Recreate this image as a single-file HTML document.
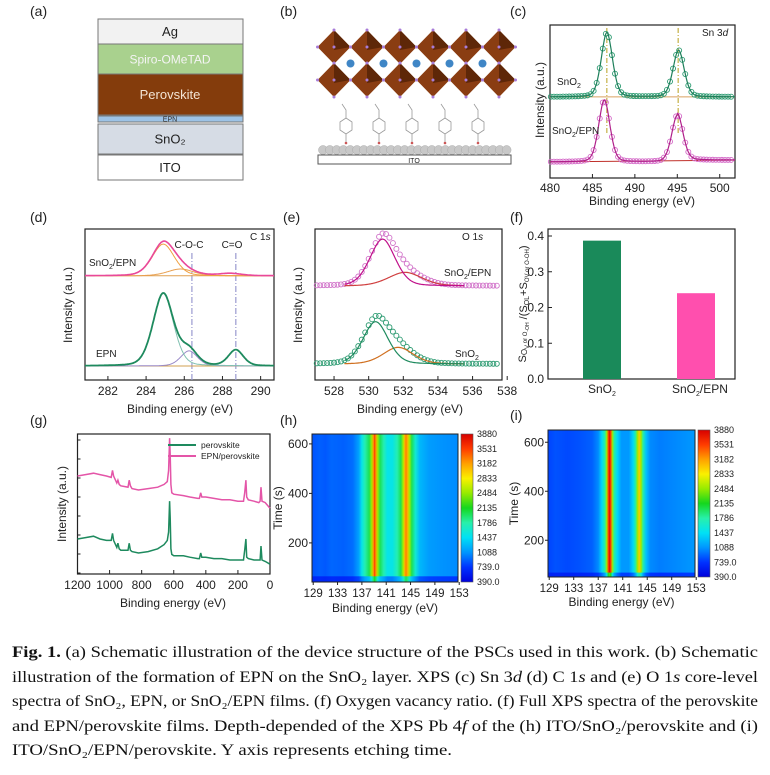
<!DOCTYPE html>
<html><head><meta charset="utf-8"><style>
body{margin:0;background:#fff;overflow:hidden}
svg{display:block;font-family:"Liberation Sans",sans-serif}
</style></head><body>
<svg id="fig" width="770" height="775" viewBox="0 0 770 775">
<defs id="defs"></defs>
<g id="panels"></g>
<g font-family="Liberation Serif, serif" font-size="16" fill="#111">
<text x="12" y="657" textLength="746" lengthAdjust="spacingAndGlyphs"><tspan font-weight="bold">Fig. 1.</tspan> (a) Schematic illustration of the device structure of the PSCs used in this work. (b) Schematic</text>
<text x="12" y="682" textLength="746" lengthAdjust="spacingAndGlyphs">illustration of the formation of EPN on the SnO₂ layer. XPS (c) Sn 3<tspan font-style="italic">d</tspan> (d) C 1<tspan font-style="italic">s</tspan> and (e) O 1<tspan font-style="italic">s</tspan> core-level</text>
<text x="12" y="706" textLength="746" lengthAdjust="spacingAndGlyphs">spectra of SnO₂, EPN, or SnO₂/EPN films. (f) Oxygen vacancy ratio. (f) Full XPS spectra of the perovskite</text>
<text x="12" y="731" textLength="746" lengthAdjust="spacingAndGlyphs">and EPN/perovskite films. Depth-depended of the XPS Pb 4<tspan font-style="italic">f</tspan> of the (h) ITO/SnO₂/perovskite and (i)</text>
<text x="12" y="755" textLength="440" lengthAdjust="spacingAndGlyphs">ITO/SnO₂/EPN/perovskite. Y axis represents etching time.</text>
</g>
</svg>
<script>
// ---------- data ----------
const cTicks=[480,485,490,495,500];
const cSnO2Peaks=[[486.7,42,0.68],[495.15,30.5,0.68]];
const cSnO2Base=53;
const cEpnPeaks=[[486.4,40.5,0.68],[495.0,30.5,0.68]];
const cEpnBase=10.5;
const cDashes=[486.7,495.1];
const dTicks=[282,284,286,288,290];
const dTopPeaks=[[284.9,21,0.6],[285.8,4.5,0.7],[288.4,1.5,0.6]];
const dTopBase=69;
const dEpnPeaks=[[284.9,48,0.55],[286.25,10,0.45],[288.7,10.5,0.4]];
const dEpnBase=9.3;
const dDashes=[286.4,288.7];
const eTicks=[528,530,532,534,536,538];
const eTopPeaks=[[530.8,31,0.75],[532.1,9,1.0]];
const eTopBase=62.3;
const eBotPeaks=[[530.4,28,0.75],[531.7,11,0.9]];
const eBotBase=10.6;
const fCats=["SnO2","SnO2/EPN"];
const fVals=[0.387,0.240];
const fTicks=[0.0,0.1,0.2,0.3,0.4];
const gTicks=[1200,1000,800,600,400,200,0];
const gPinkE=[1200,1150,1100,1060,1020,990,982,975,955,948,940,930,885,878,870,860,820,760,700,660,640,632,626,622,618,612,600,540,500,450,440,432,425,400,350,300,250,200,165,158,150,145,135,100,70,62,56,50,30,0];
const gPinkI=[70,71,72,71,70,69,74,70,65,67,64,63,62,67,63,61,60,61,62,64,66,74,97,85,64,58,57,56,55,54,54,58,55,55,54,53,53,52,52,58,67,55,53,52,51,52,62,52,51,47];
const gGreenE=[1200,1150,1100,1060,1020,990,982,975,955,948,940,930,885,878,870,860,820,760,700,660,640,632,626,622,618,612,600,540,500,450,440,432,425,400,350,300,250,200,165,158,150,145,135,100,70,62,56,50,30,0];
const gGreenI=[25,26,27,25,24,24,29,24,19,22,18,17,17,22,17,16,15,16,18,21,24,30,52,40,18,14,13,13,12,11,11,15,12,12,11,11,10,10,10,17,25,12,11,10,10,10,20,10,9,7];
const hmTicks=[129,133,137,141,145,149,153];
const hmYTicks=[200,400,600];
const cbLabels=["3880","3531","3182","2833","2484","2135","1786","1437","1088","739.0","390.0"];
const hE=[128.8,130,131,132,134,135.5,136.5,137,137.5,138.2,138.6,138.9,139.1,139.3,139.6,140,140.6,141.2,142,142.8,143.4,143.8,144.05,144.25,144.5,144.8,145.2,145.8,146.5,148,150,152.8];
const hI=[850,900,870,920,900,950,1150,1500,1750,2000,2500,3200,3550,3200,2500,2000,1750,1500,1500,1750,2000,2550,3100,3300,3100,2550,2000,1600,1250,1120,1080,1050];
const iE=[128.8,130,132,134,136,137,137.6,138.1,138.4,138.65,138.85,139.05,139.3,139.6,140.1,140.8,142,142.7,143.1,143.4,143.7,144.0,144.3,144.8,145.5,147,150,152.8];
const iI=[800,850,820,850,900,1050,1400,1800,2500,3500,3850,3500,2500,1800,1400,1100,1100,1400,1800,2500,3000,2500,1800,1300,1050,1000,1050,1100];

// ---------- helpers ----------
const NS="http://www.w3.org/2000/svg";
const root=document.getElementById('panels');
const defs=document.getElementById('defs');
function el(tag,attrs,parent){const e=document.createElementNS(NS,tag);for(const k in attrs)e.setAttribute(k,attrs[k]);(parent||root).appendChild(e);return e;}
function txt(x,y,s,attrs,parent){const t=el('text',Object.assign({x:x,y:y,'font-size':11,fill:'#222'},attrs||{}),parent);t.textContent=s;return t;}
function lin(d0,d1,r0,r1){return v=>r0+(v-d0)/(d1-d0)*(r1-r0);}
function pv(x,p){let s=0;for(const q of p){const d=(x-q[0])/q[2];s+=q[1]*(0.75*Math.exp(-0.5*d*d)+0.25/(1+d*d));}return s;}
function pathFrom(xs,ys){return xs.map((x,i)=>(i?'L':'M')+x.toFixed(1)+','+ys[i].toFixed(1)).join('');}
const CM=[[0,[0,0,220]],[0.1,[0,50,255]],[0.2,[0,150,255]],[0.3,[0,225,245]],[0.4,[40,240,170]],[0.5,[20,215,30]],[0.6,[150,235,0]],[0.7,[250,240,0]],[0.8,[255,160,0]],[0.9,[255,60,0]],[1,[215,0,0]]];
function cmap(v){v=Math.max(0,Math.min(1,v));for(let i=1;i<CM.length;i++){if(v<=CM[i][0]){const a=CM[i-1],b=CM[i],t=(v-a[0])/(b[0]-a[0]);return 'rgb('+[0,1,2].map(k=>Math.round(a[1][k]+(b[1][k]-a[1][k])*t)).join(',')+')';}}return 'rgb(215,0,0)';}
function label(x,y,s){const t=txt(x,y,s,{'font-size':14});}
function frame(x0,y0,x1,y1,name){const r=el('rect',{x:x0,y:y0,width:x1-x0,height:y1-y0,fill:'none',stroke:'#222','stroke-width':1.2});}
function xAxis(ticks,sx,y,ty,title,tyTitle,cx){for(const t of ticks){el('line',{x1:sx(t),x2:sx(t),y1:y,y2:y-4,stroke:'#222'});const l=txt(sx(t),ty,String(t),{'text-anchor':'middle','font-size':12});}
 const a=txt(cx,tyTitle,title,{'text-anchor':'middle','font-size':12});}
function yTitle(x,y,s){const t=txt(x,y,s,{'text-anchor':'middle','font-size':12,transform:'rotate(-90 '+x+' '+y+')'});}
function sub(x,y,a,b,c,attrs){const t=txt(x,y,'',Object.assign({'font-size':10},attrs||{}));const s1=el('tspan',{},t);s1.textContent=a;const s2=el('tspan',{dy:3,'font-size':7},t);s2.textContent=b;if(c){const s3=el('tspan',{dy:-3},t);s3.textContent=c;}return t;}
function curve(sx,sy,e0,e1,peaks,base,slope,color,w,name){const xs=[],ys=[];for(let e=e0;e<=e1+1e-9;e+=(e1-e0)/300){xs.push(sx(e));ys.push(sy(base+pv(e,peaks)+(slope?slope(e):0)));}const p=el('path',{d:pathFrom(xs,ys),fill:'none',stroke:color,'stroke-width':w||1.3});return p;}
function circles(sx,sy,e0,e1,step,peaks,base,slope,color,name){const g=el('g',{fill:'none',stroke:color,'stroke-width':0.9});for(let e=e0;e<=e1;e+=step){el('circle',{cx:sx(e),cy:sy(base+pv(e,peaks)+(slope?slope(e):0)),r:2.5},g);}}

// ---------- (a) ----------
label(30,16,'(a)');
const layers=[['Ag',19,44,'#f2f2f2','#222',13],['Spiro-OMeTAD',44,74,'#a9d18e','#f4f4f4',12],['Perovskite',74,115,'#843c0c','#f4e4d4',13],['EPN',116,122,'#9dc3e6','#333',7],['SnO₂',124,154,'#d6dce5','#222',13],['ITO',155,180,'#ffffff','#222',13]];
for(const L of layers){const r=el('rect',{x:98,y:L[1],width:145,height:L[2]-L[1],fill:L[3],stroke:'#777','stroke-width':1});txt(170,(L[1]+L[2])/2+L[5]*0.36,L[0],{'text-anchor':'middle','font-size':L[5],fill:L[4]});}

// ---------- (b) ----------
label(280,16,'(b)');
const gb=el('g',{});
for(let r=0;r<2;r++)for(let c=0;c<6;c++){const cx=334+c*33,cy=47+r*33;el('polygon',{points:`${cx},${cy-17} ${cx+16.5},${cy} ${cx},${cy+17} ${cx-16.5},${cy}`,fill:'#8a3d12'},gb);el('polygon',{points:`${cx},${cy-17} ${cx+16.5},${cy} ${cx},${cy+3}`,fill:'#5e2708'},gb);for(const v of [[0,-17],[16.5,0],[0,17],[-16.5,0],[0,0]])el('circle',{cx:cx+v[0],cy:cy+v[1],r:1.5,fill:'#a87cd8'},gb);}
for(let c=0;c<5;c++)el('circle',{cx:350.5+c*33,cy:63.5,r:4,fill:'#3f86c6'},gb);
for(let c=0;c<5;c++){const x=342+c*33;el('path',{d:`M${x},104 l4,6 v8 l6,4 v8 l-6,4 l-6,-4 v-8 l6,-4 M${x+4},134 v8`,fill:'none',stroke:'#999','stroke-width':0.8},gb);el('circle',{cx:x+4,cy:143,r:1.3,fill:'#c55'},gb);}
for(let i=0;i<28;i++)el('circle',{cx:323+i*6.8,cy:150,r:4.5,fill:'#c8c8c8',stroke:'#aaa','stroke-width':0.5},gb);
el('rect',{x:318,y:155,width:193,height:9,fill:'#fff',stroke:'#555'},gb);
txt(414,163,'ITO',{'text-anchor':'middle','font-size':7},gb);

// ---------- (c) ----------
label(510,16,'(c)');
(function(){const sx=lin(480,501.8,550,735),sy=lin(0,100,178,25);
frame(550,25,735,178,'plot-area-c');
for(const d of cDashes)el('line',{x1:sx(d),x2:sx(d),y1:28,y2:135,stroke:'#b8a020','stroke-dasharray':'5,2,1,2','stroke-width':1});
el('line',{x1:sx(480),x2:sx(501.8),y1:sy(cSnO2Base),y2:sy(cSnO2Base),stroke:'#d9a060'});
circles(sx,sy,480.1,501.7,0.36,cSnO2Peaks,cSnO2Base,null,'#2a9a70','series-sno2-data');
curve(sx,sy,480,501.8,cSnO2Peaks,cSnO2Base,null,'#1d7f5a',1.2,'series-sno2-fit');
const sl=e=>e>495?1.2:0;
el('line',{x1:sx(480),x2:sx(501.8),y1:sy(cEpnBase),y2:sy(cEpnBase+1.2),stroke:'#c0302a'});
circles(sx,sy,480.1,501.7,0.36,cEpnPeaks,cEpnBase,sl,'#d46ac8','series-sno2-epn-data');
curve(sx,sy,480,501.8,cEpnPeaks,cEpnBase,sl,'#b0208a',1.2,'series-sno2-epn-fit');
xAxis(cTicks,sx,178,192,'Binding energy (eV)',205,642);
yTitle(544,100,'Intensity (a.u.)');
sub(557,85,'SnO','2');sub(552,134,'SnO','2','/EPN');
const t=txt(702,36,'Sn 3',{'font-size':10});const s=el('tspan',{'font-style':'italic'},t);s.textContent='d';})();

// ---------- (d) ----------
label(30,222,'(d)');
(function(){const sx=lin(280.8,290.7,85,274),sy=lin(0,100,380,229);
frame(85,229,274,380,'plot-area-d');
for(const d of dDashes)el('line',{x1:sx(d),x2:sx(d),y1:253,y2:380,stroke:'#9a9ad0','stroke-dasharray':'6,2,1,2','stroke-width':1.2});
el('line',{x1:85,x2:274,y1:sy(dTopBase),y2:sy(dTopBase),stroke:'#e0a050'});
curve(sx,sy,280.8,290.7,[dTopPeaks[1]],dTopBase,null,'#e8a050',1,'component-top-coc');
curve(sx,sy,280.8,290.7,[dTopPeaks[0]],dTopBase,null,'#f0a040',1,'component-top-cc');
curve(sx,sy,280.8,290.7,dTopPeaks,dTopBase,null,'#e9489a',1.6,'series-sno2-epn');
el('line',{x1:85,x2:274,y1:sy(dEpnBase),y2:sy(dEpnBase),stroke:'#d0a050'});
curve(sx,sy,280.8,290.7,[dEpnPeaks[1]],dEpnBase,null,'#9a8ac8',1,'component-epn-coc');
curve(sx,sy,280.8,290.7,[dEpnPeaks[0]],dEpnBase,null,'#80c0b0',1,'component-epn-cc');
curve(sx,sy,280.8,290.7,dEpnPeaks,dEpnBase,null,'#1e8a5e',1.8,'series-epn');
xAxis(dTicks,sx,380,395,'Binding energy (eV)',413,180);
yTitle(72,305,'Intensity (a.u.)');
sub(89,266,'SnO','2','/EPN');txt(96,357,'EPN',{'font-size':10});
txt(189,248,'C-O-C',{'font-size':10,'text-anchor':'middle'});txt(232,248,'C=O',{'font-size':10,'text-anchor':'middle'});
const t=txt(250,240,'C 1',{'font-size':10});const s=el('tspan',{'font-style':'italic'},t);s.textContent='s';})();

// ---------- (e) ----------
label(283,222,'(e)');
(function(){const sx=lin(526.9,537.7,315,502),sy=lin(0,100,380,229);
frame(315,229,502,380,'plot-area-e');
circles(sx,sy,527,537.6,0.2,eTopPeaks,eTopBase,null,'#d070c8','series-sno2-epn-data');
curve(sx,sy,528.6,535.5,[eTopPeaks[1]],eTopBase,null,'#d04040',1.2,'component-top-high');
curve(sx,sy,528.6,535.5,[eTopPeaks[0]],eTopBase,null,'#c0108a',1.2,'component-top-lattice');
circles(sx,sy,527,537.6,0.2,eBotPeaks,eBotBase,null,'#2a9a70','series-sno2-data');
curve(sx,sy,528.6,535.5,[eBotPeaks[1]],eBotBase,null,'#d07020',1.2,'component-bot-high');
curve(sx,sy,528.6,535.5,[eBotPeaks[0]],eBotBase,null,'#1e8a5e',1.2,'component-bot-lattice');
xAxis(eTicks,sx,380,395,'Binding energy (eV)',413,410);
yTitle(302,305,'Intensity (a.u.)');
sub(444,276,'SnO','2','/EPN');sub(455,357,'SnO','2');
const t=txt(462,240,'O 1',{'font-size':10});const s=el('tspan',{'font-style':'italic'},t);s.textContent='s';})();

// ---------- (f) ----------
label(510,222,'(f)');
(function(){const sy=lin(0,0.1,379,343.25);const bx=[583,677],bw=38,cols=['#1a8a5a','#ff4fae'];
frame(548,229,735,379,'plot-area-f');
fVals.forEach((v,i)=>{const r=el('rect',{x:bx[i],y:sy(v),width:bw,height:379-sy(v),fill:cols[i]});});
for(const t of fTicks){el('line',{x1:548,x2:552,y1:sy(t),y2:sy(t),stroke:'#222'});const l=txt(544,sy(t)+4,t.toFixed(1),{'text-anchor':'end','font-size':12});}
sub(588,393,'SnO','2',null,{'font-size':12});sub(672,393,'SnO','2','/EPN',{'font-size':12});
const t=txt(526,304,'S',{'font-size':11,'text-anchor':'middle',transform:'rotate(-90 526 304)'});
[['O',1,8],['V',2,6],[' or O',-2,6],['-OH',2,5],[' /(S',-2,11],['OL',2,7],['+S',-2,11],['OV or O-OH',2,6],[')',-2,11]].forEach(p=>{const s=el('tspan',{dy:p[1],'font-size':p[2]},t);s.textContent=p[0];});
})();

// ---------- (g) ----------
label(30,425,'(g)');
(function(){const sx=lin(1200,0,77.5,270),sy=lin(0,100,574,434);
frame(77.5,434,270,574,'plot-area-g');
for(let k=0;k<8;k++)el('line',{x1:77.5,x2:80.5,y1:440+k*19,y2:440+k*19,stroke:'#222'});
const p1=el('path',{d:pathFrom(gPinkE.map(sx),gPinkI.map(sy)),fill:'none',stroke:'#e455a8','stroke-width':1.5});
const p2=el('path',{d:pathFrom(gGreenE.map(sx),gGreenI.map(sy)),fill:'none',stroke:'#1e8a5e','stroke-width':1.5});
xAxis(gTicks,sx,574,589,'Binding energy (eV)',607,173);
yTitle(66,504,'Intensity (a.u.)');
const lg=el('g',{});
el('line',{x1:168,x2:196,y1:445,y2:445,stroke:'#1e8a5e','stroke-width':2},lg);txt(201,448,'perovskite',{'font-size':8.5},lg);
el('line',{x1:168,x2:196,y1:456,y2:456,stroke:'#e455a8','stroke-width':2},lg);txt(201,459,'EPN/perovskite',{'font-size':8.5},lg);})();

// ---------- heatmaps ----------
(function(){const g=el('linearGradient',{id:'cbgrad',x1:0,y1:1,x2:0,y2:0},defs);for(let i=0;i<=20;i++)el('stop',{offset:i/20,'stop-color':cmap(i/20)},g);})();
function heat(id,x0,y0,x1,y1,E,I,cbx,yTop,yBot,tyTitle,bandT){
 const sx=lin(128.8,152.8,x0,x1),sy=lin(yBot,yTop,y1,y0);
 const gid='hg'+id;const lg=el('linearGradient',{id:gid,x1:0,y1:0,x2:1,y2:0},defs);
 E.forEach((e,i)=>el('stop',{offset:((e-128.8)/24).toFixed(4),'stop-color':cmap((I[i]-390)/3490)},lg));
 const r=el('rect',{x:x0,y:y0,width:x1-x0,height:y1-y0,fill:'url(#'+gid+')'});
 const gid2='hb'+id;const lg2=el('linearGradient',{id:gid2,x1:0,y1:0,x2:1,y2:0},defs);
 E.forEach((e,i)=>el('stop',{offset:((e-128.8)/24).toFixed(4),'stop-color':cmap((I[i]-390)/3490*0.55)},lg2));
 const b=el('rect',{x:x0,y:sy(bandT),width:x1-x0,height:y1-sy(bandT),fill:'url(#'+gid2+')'});
 el('rect',{x:x0,y:y0,width:x1-x0,height:y1-y0,fill:'none',stroke:'#222','stroke-width':1});
 for(const t of hmTicks){el('line',{x1:sx(t),x2:sx(t),y1:y1,y2:y1+3,stroke:'#222'});const l=txt(sx(t),y1+15,String(t),{'text-anchor':'middle','font-size':11.5});}
 for(const t of hmYTicks){el('line',{x1:x0-3,x2:x0,y1:sy(t),y2:sy(t),stroke:'#222'});const l=txt(x0-4,sy(t)+4,String(t),{'text-anchor':'end','font-size':12});}
 const a=txt((x0+x1)/2,tyTitle,'Binding energy (eV)',{'text-anchor':'middle','font-size':12});
 yTitle(x0-30,(y0+y1)/2,'Time (s)');
 const cb=el('rect',{x:cbx,y:y0,width:12,height:y1-y0,fill:'url(#cbgrad)',stroke:'#555','stroke-width':0.6});
 cbLabels.forEach((s,i)=>{const y=y0+i*(y1-y0)/(cbLabels.length-1);const l=txt(cbx+16,y+3,s,{'font-size':9});});
}
label(280,425,'(h)');
heat('h',312,434,458,582,hE,hI,461,640,42,612,65);
label(510,420,'(i)');
heat('i',548,430,695,577,iE,iI,698,650,50,606,68);
</script>
</body></html>
